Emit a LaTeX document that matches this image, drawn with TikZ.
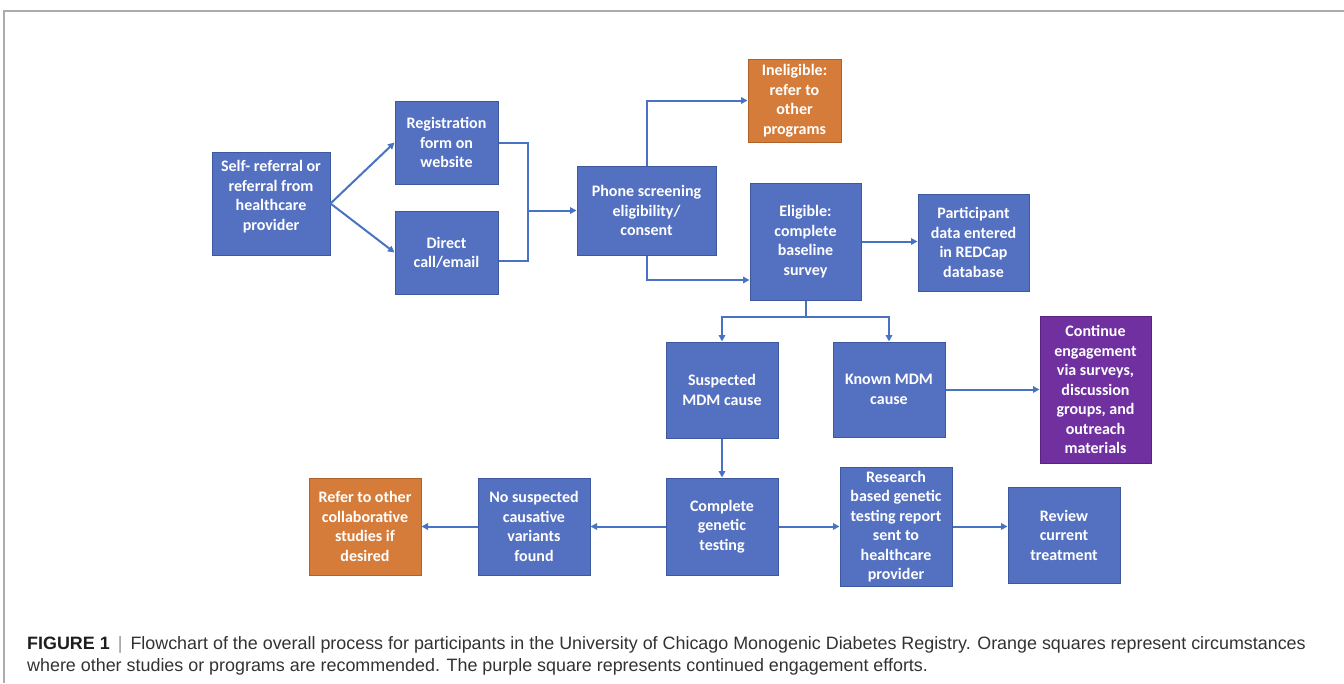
\documentclass[tikz,border=0pt]{standalone}
\usepackage{fontspec}
\setmainfont{Carlito}
\newfontfamily\capfont{Liberation Sans}
\usetikzlibrary{arrows.meta}
\definecolor{boxblue}{RGB}{84,112,193}
\definecolor{boxborder}{RGB}{62,88,160}
\definecolor{boxorange}{RGB}{213,124,58}
\definecolor{orangeborder}{RGB}{175,98,42}
\definecolor{boxpurple}{RGB}{112,48,160}
\definecolor{purpleborder}{RGB}{88,36,128}
\definecolor{linkblue}{RGB}{72,114,196}
\definecolor{framegray}{RGB}{172,172,172}
\definecolor{captext}{RGB}{50,50,50}
\definecolor{capbar}{RGB}{150,150,150}
\tikzset{
  flowbox/.style={draw=boxborder, fill=boxblue, line width=1pt, text=white,
    font=\fontsize{16}{19.5}\selectfont\bfseries, align=center, inner sep=0pt},
  orangebox/.style={flowbox, draw=orangeborder, fill=boxorange},
  purplebox/.style={flowbox, draw=purpleborder, fill=boxpurple},
  sz/.style 2 args={minimum width=#1pt, minimum height=#2pt},
  link/.style={draw=linkblue, line width=2pt},
  arr/.style={link, -{Triangle[length=6.5pt,width=6.5pt]}},
  captionline/.style={anchor=base west, inner sep=0pt, text=captext,
    font=\capfont\fontsize{17.9}{19}\selectfont}
}
\begin{document}
\begin{tikzpicture}[x=1pt,y=-1pt]
\useasboundingbox (0,0) rectangle (1344,683);
% frame
\draw[framegray, line width=1.5pt] (4,683) -- (4,11) -- (1344,11);

% nodes
\node[flowbox, sz={118}{103}] (self) at (271,203.5) {Self- referral or\\referral from\\healthcare\\provider\\[-3.5pt]\mbox{}};
\node[flowbox, sz={103}{83}] (reg) at (446.5,142.5) {Registration\\form on\\website};
\node[flowbox, sz={103}{83}] (direct) at (446.5,252.5) {Direct\\call/email};
\node[flowbox, sz={139}{89}] (phone) at (646.5,210.5) {Phone screening\\eligibility/\\consent};
\node[orangebox, sz={93}{83}] (inelig) at (794.5,100.5) {Ineligible:\\refer to\\other\\programs};
\node[flowbox, sz={111}{117}] (elig) at (805.5,241.5) {Eligible:\\complete\\baseline\\survey};
\node[flowbox, sz={111}{97}] (part) at (973.5,242.5) {Participant\\data entered\\in REDCap\\database};
\node[flowbox, sz={112}{96}] (susp) at (722,390) {Suspected\\MDM cause};
\node[flowbox, sz={112}{95}] (known) at (889,389.5) {Known MDM\\cause};
\node[purplebox, sz={111}{147}] (cont) at (1095.5,389.5) {Continue\\engagement\\via surveys,\\discussion\\groups, and\\outreach\\materials};
\node[flowbox, sz={112}{97}] (comp) at (722,526.5) {Complete\\genetic\\testing};
\node[flowbox, sz={112}{119}] (res) at (896,526.5) {Research\\based genetic\\testing report\\sent to\\healthcare\\provider};
\node[flowbox, sz={112}{96}] (rev) at (1064,535) {Review\\current\\treatment};
\node[flowbox, sz={112}{97}] (nosus) at (534,526.5) {No suspected\\causative\\variants\\found};
\node[orangebox, sz={112}{97}] (refer) at (365,526.5) {Refer to other\\collaborative\\studies if\\desired};

% connectors
\draw[arr] (self.east) -- (reg.west);
\draw[arr] (self.east) -- (direct.west);
\coordinate (j1) at (528,210.5);
\draw[link] (reg.east) -| (j1);
\draw[link] ([yshift=-8.5pt]direct.east) -| (j1);
\draw[arr] (j1) -- (phone.west);
\draw[arr] (phone.north) |- (inelig.west);
\draw[arr] (phone.south) |- ([yshift=-38.5pt]elig.west);
\draw[arr] (elig.east) -- (elig.east -| part.west);
\coordinate (j2) at (805.5,317);
\draw[link] (elig.south) -- (j2);
\draw[arr] (j2) -| (susp.north);
\draw[arr] (j2) -| (known.north);
\draw[arr] (known.east) -- (cont.west);
\draw[arr] (susp.south) -- (comp.north);
\draw[arr] (comp.west) -- (nosus.east);
\draw[arr] (nosus.west) -- (refer.east);
\draw[arr] (comp.east) -- (res.west);
\draw[arr] (res.east) -- (res.east -| rev.west);

% caption
\node[captionline] (cap1) at (27,649) {{\color[RGB]{30,30,30}\bfseries FIGURE 1}\hspace{0.45em}{\color{capbar}|}\hspace{0.45em}Flowchart of the overall process for participants in the University of Chicago Monogenic Diabetes Registry. Orange squares represent circumstances};
\node[captionline] (cap2) at (27,671) {where other studies or programs are recommended. The purple square represents continued engagement efforts.};
\end{tikzpicture}
\end{document}
